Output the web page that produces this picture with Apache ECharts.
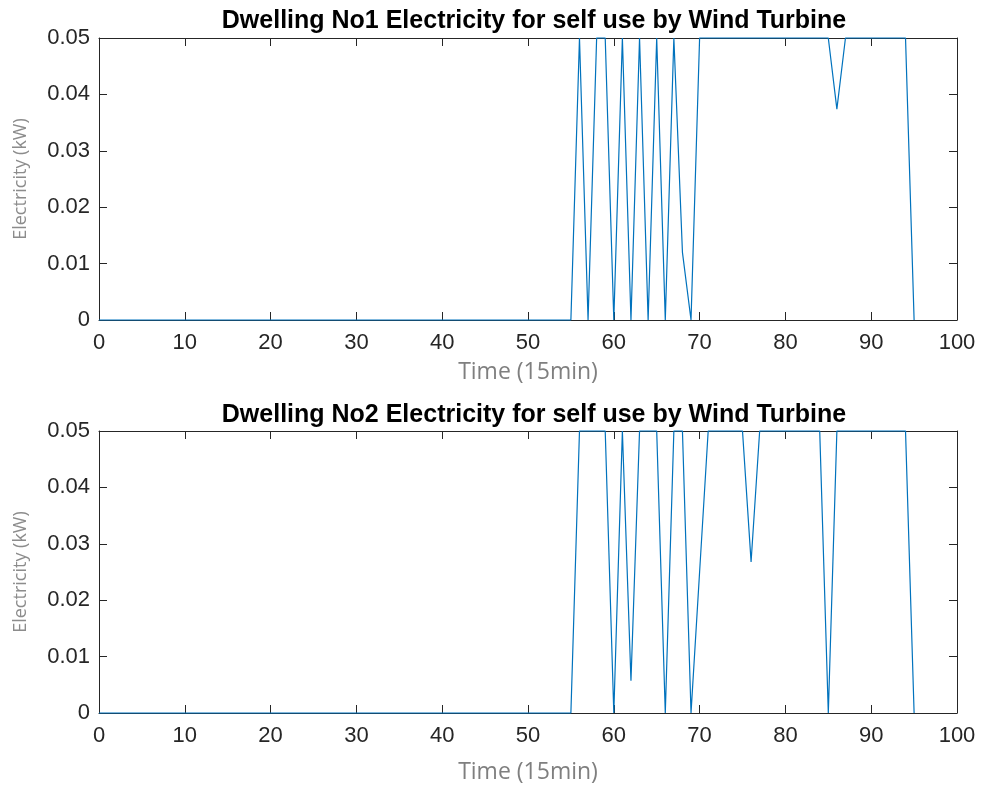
<!DOCTYPE html>
<html><head><meta charset="utf-8">
<script src="https://cdn.jsdelivr.net/npm/echarts@6/dist/echarts.min.js"></script>
<style>html,body{margin:0;padding:0;background:#fff}#c{width:982px;height:791px}</style>
</head><body><div id="c"></div>
<script>
const titles = ['Dwelling No1 Electricity for self use by Wind Turbine','Dwelling No2 Electricity for self use by Wind Turbine'];
const xName = 'Time (15min)';
const yName = 'Electricity (kW)';
// indices 0..54 are zero for both dwellings
const leadingZeros = [0,0,0,0,0,0,0,0,0,0, 0,0,0,0,0,0,0,0,0,0, 0,0,0,0,0,0,0,0,0,0, 0,0,0,0,0,0,0,0,0,0, 0,0,0,0,0,0,0,0,0,0, 0,0,0,0,0];
const d1Tail = [
  0,0.05,0,0.05,0.05,0,0.05,0,0.05,0,              // 55-64
  0.05,0,0.05,0.012,0,0.05,0.05,0.05,0.05,0.05,    // 65-74
  0.05,0.05,0.05,0.05,0.05,0.05,0.05,0.05,0.05,0.05, // 75-84
  0.05,0.0374,0.05,0.05,0.05,0.05,0.05,0.05,0.05,0.05, // 85-94
  0                                                 // 95
];
const d2Tail = [
  0,0.05,0.05,0.05,0.05,0,0.05,0.0057,0.05,0.05,   // 55-64
  0.05,0,0.05,0.05,0,0.025,0.05,0.05,0.05,0.05,    // 65-74
  0.05,0.0268,0.05,0.05,0.05,0.05,0.05,0.05,0.05,0.05, // 75-84
  0,0.05,0.05,0.05,0.05,0.05,0.05,0.05,0.05,0.05,  // 85-94
  0                                                 // 95
];
const dwelling1 = leadingZeros.concat(d1Tail);
const dwelling2 = leadingZeros.concat(d2Tail);
const xTicks = {min:0,max:100,interval:10};
const yTicks = {min:0,max:0.05,interval:0.01};

function pairs(arr){ return arr.map((v,i)=>[i,v]); }

const font = 'Liberation Sans, Arial, Helvetica, sans-serif';
const nameFont = 'Open Sans, sans-serif';
const axCol = '#262626';
const grids = [
  {left:99, right:25, top:38, height:282},
  {left:99, right:25, top:431, height:282}
];
const xNameGaps = [41, 48];
const tick = {show:true, inside:true, length:8, lineStyle:{color:axCol}};
const xAxes = [], yAxes = [];
grids.forEach((g,i)=>{
  xAxes.push({type:'value', gridIndex:i, position:'bottom', min:xTicks.min, max:xTicks.max, interval:xTicks.interval,
    name:xName, nameLocation:'middle', nameGap:xNameGaps[i], nameTextStyle:{color:'#7f7f7f', fontSize:23, fontFamily:nameFont},
    axisLine:{show:true, onZero:false, lineStyle:{color:axCol,width:1}},
    axisTick:tick,
    axisLabel:{color:axCol, fontSize:22, fontFamily:font, margin:12},
    splitLine:{show:false}});
  xAxes.push({type:'value', gridIndex:i, position:'top', min:xTicks.min, max:xTicks.max, interval:xTicks.interval,
    axisLine:{show:true, onZero:false, lineStyle:{color:axCol,width:1}},
    axisTick:tick,
    axisLabel:{show:false}, splitLine:{show:false}});
  yAxes.push({type:'value', gridIndex:i, position:'left', min:yTicks.min, max:yTicks.max, interval:yTicks.interval,
    name:yName, nameLocation:'middle', nameGap:69, nameRotate:90, nameTextStyle:{color:'#8c8c8c', fontSize:18, fontFamily:nameFont},
    axisLine:{show:true, onZero:false, lineStyle:{color:axCol,width:1}},
    axisTick:tick,
    axisLabel:{color:axCol, fontSize:22, fontFamily:font, margin:9},
    splitLine:{show:false}});
  yAxes.push({type:'value', gridIndex:i, position:'right', min:yTicks.min, max:yTicks.max, interval:yTicks.interval,
    axisLine:{show:true, onZero:false, lineStyle:{color:axCol,width:1}},
    axisTick:tick,
    axisLabel:{show:false}, splitLine:{show:false}});
});
const chart = echarts.init(document.getElementById('c'), null, {renderer:'canvas'});
chart.setOption({
  animation:false,
  backgroundColor:'#fff',
  title: titles.map((t,i)=>({text:t, left:529, textAlign:'center', top: i===0?4:398,
    textStyle:{fontSize:25, fontWeight:'bold', color:'#000', fontFamily:font}})),
  grid: grids,
  xAxis: xAxes,
  yAxis: yAxes,
  series: [
    {type:'line', xAxisIndex:0, yAxisIndex:0, data:pairs(dwelling1), showSymbol:false, lineStyle:{color:'#0072BD', width:1.2}, clip:false},
    {type:'line', xAxisIndex:2, yAxisIndex:2, data:pairs(dwelling2), showSymbol:false, lineStyle:{color:'#0072BD', width:1.2}, clip:false}
  ]
});
</script></body></html>
